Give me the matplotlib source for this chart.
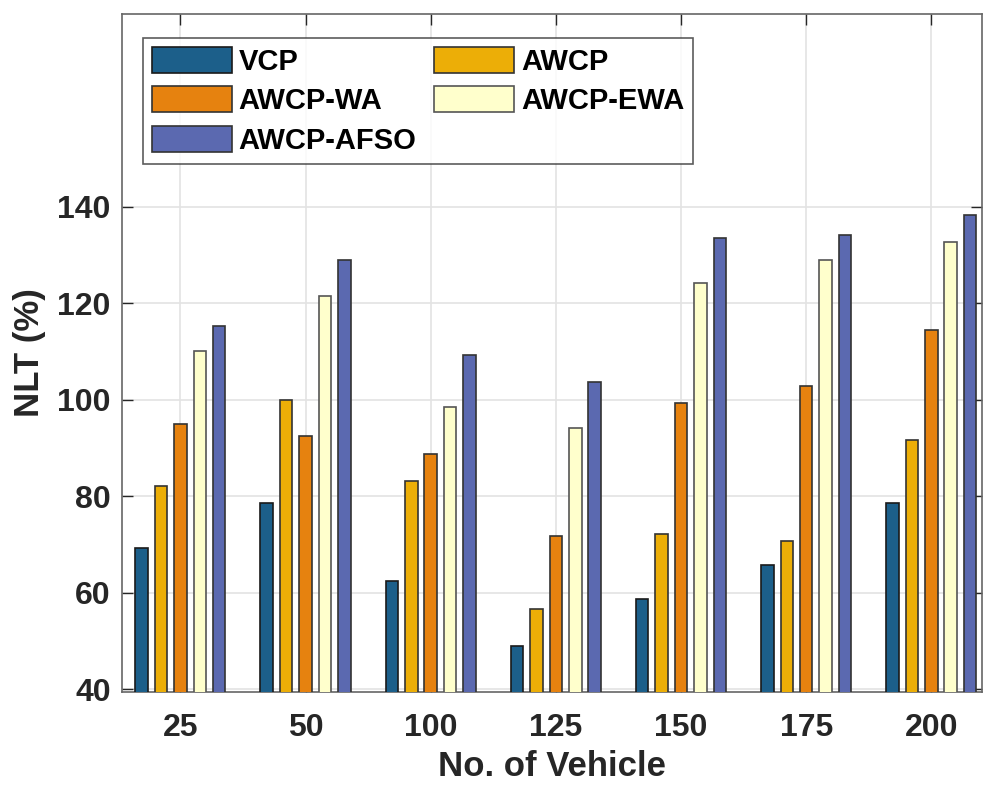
import numpy as np
import matplotlib
matplotlib.use('Agg')
import matplotlib.pyplot as plt

plt.rcParams['font.family'] = ['Liberation Sans', 'DejaVu Sans']
plt.rcParams['font.weight'] = 'bold'

vehicles = ['25', '50', '100', '125', '150', '175', '200']
methods = ['VCP', 'AWCP', 'AWCP-WA', 'AWCP-EWA', 'AWCP-AFSO']

vcp = [69.3, 78.6, 62.4, 48.9, 58.7, 65.8, 78.6]
awcp = [82.1, 100.0, 83.1, 56.6, 72.2, 70.8, 91.6]
awcp_wa = [95.0, 92.4, 88.7, 71.7, 99.3, 102.9, 114.4]
awcp_ewa = [110.2, 121.6, 98.4, 94.2, 124.2, 129.0, 132.8]
awcp_afso = [115.2, 129.0, 109.2, 103.6, 133.5, 134.1, 138.3]

series = [vcp, awcp, awcp_wa, awcp_ewa, awcp_afso]
colors = ['#1c5f8a', '#ecae07', '#e6820f', '#ffffcc', '#5b69b0']
edges = ['#1a1a1a', '#333333', '#333333', '#555555', '#333333']

fig = plt.figure(figsize=(9.83, 7.87), dpi=100)
ax = fig.add_axes([0.1239, 0.1207, 0.8751, 0.8615])

x = np.arange(1, len(vehicles) + 1)
step = 0.155
width = 0.1
bars = []
for i, (vals, c, ec) in enumerate(zip(series, colors, edges)):
    b = ax.bar(x + (i - 2) * step, vals, width, color=c, edgecolor=ec,
               linewidth=1.2, label=methods[i], zorder=3)
    bars.append(b)

ax.set_xlim(0.532, 7.405)
ax.set_ylim(39.4, 180)
ax.set_yticks([40, 60, 80, 100, 120, 140])
ax.set_xticks(x)
ax.set_xticklabels(vehicles)

ax.grid(True, color='#e3e3e3', linewidth=1.2, zorder=0)
ax.tick_params(direction='in', length=8, width=1, colors='#262626',
               labelsize=23, top=True, right=True)
ax.tick_params(axis='x', pad=15)
ax.tick_params(axis='y', pad=8)
for lab in ax.get_xticklabels() + ax.get_yticklabels():
    lab.set_fontweight('bold')
for s in ax.spines.values():
    s.set_color('#666666')
    s.set_linewidth(1.2)

ax.set_xlabel('No. of Vehicle', fontsize=25, fontweight='bold', color='#262626', labelpad=5)
ax.set_ylabel('NLT (%)', fontsize=25, fontweight='bold', color='#262626', labelpad=8)

# MATLAB fills legend rows first
order = [0, 2, 4, 1, 3]
leg = ax.legend([bars[k] for k in order], [methods[k] for k in order],
                ncol=2, loc='upper left', bbox_to_anchor=(0.0246, 0.9646),
                borderaxespad=0, fontsize=21, frameon=True, fancybox=False,
                edgecolor='#333333', handlelength=2.74, handleheight=1.0,
                columnspacing=0.6, labelspacing=0.36, handletextpad=0.24,
                borderpad=0.3)
leg.get_frame().set_linewidth(1.2)
for t in leg.get_texts():
    t.set_fontweight('bold')

fig.savefig('out.png', dpi=100)
